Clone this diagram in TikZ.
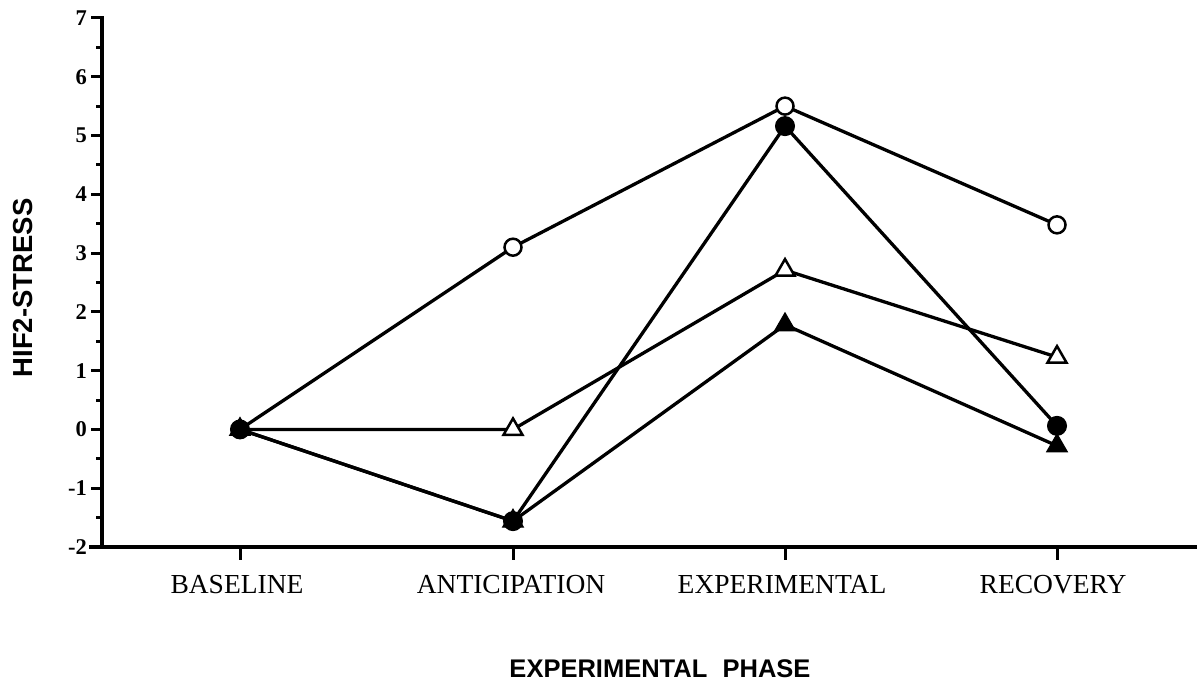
\documentclass[tikz,border=0pt]{standalone}
\usepackage{fontspec}
\setmainfont{Liberation Serif}
\newfontfamily\hsans{Liberation Sans}
\usetikzlibrary{shapes.geometric}
\begin{document}
\begin{tikzpicture}[x=1pt,y=-1pt,
  axisline/.style={line width=3.8pt,line cap=rect},
  tickline/.style={line width=3pt},
  dataline/.style={line width=3.3pt,line join=round},
  ocirc/.style={circle,draw,fill=white,line width=2.5pt,minimum size=17pt,inner sep=0pt},
  fcirc/.style={circle,draw,fill=black,line width=1pt,minimum size=19pt,inner sep=0pt},
  otri/.style={regular polygon,regular polygon sides=3,draw,fill=white,line width=2.5pt,minimum size=22pt,inner sep=0pt},
  ftri/.style={regular polygon,regular polygon sides=3,draw,fill=black,line width=1pt,minimum size=24pt,inner sep=0pt},
  ticklab/.style={anchor=east,inner sep=0pt,font=\bfseries\fontsize{22.5}{24}\selectfont},
  catlab/.style={anchor=base,inner sep=0pt,font=\fontsize{27.5}{30}\selectfont},
  axtitle/.style={anchor=base,inner sep=0pt,font=\hsans\bfseries\fontsize{25.5}{28}\selectfont}
]
\useasboundingbox[fill=white] (0,0) rectangle (1198,683);
\def\yv#1{429.4-58.78*#1}
% axes
\draw[axisline] (102,18) -- (102,547);
\draw[axisline] (91,547) -- (1195,547);
% y ticks
\foreach \v in {7,6,5,4,3,2,1,0,-1}{
  \draw[tickline] (102,{\yv{\v}}) -- (91,{\yv{\v}});
}
\foreach \v in {6.5,5.5,4.5,3.5,2.5,1.5,0.5,-0.5,-1.5}{
  \draw[tickline] (102,{\yv{\v}}) -- (96,{\yv{\v}});
}
\foreach \v in {7,6,5,4,3,2,1,0,-1,-2}{
  \node[ticklab] (yl\v) at (87,{\yv{\v}}) {\v};
}
% x ticks
\foreach \x in {240,513,785,1057}{
  \draw[tickline] (\x,547) -- (\x,560);
}
\node[catlab] (cb) at (237,593) {BASELINE};
\node[catlab] (ca) at (511,593) {ANTICIPATION};
\node[catlab] (ce) at (782,593) {EXPERIMENTAL};
\node[catlab] (cr) at (1053,593) {RECOVERY};
\node[axtitle] (xt) at (660,677) {EXPERIMENTAL\hspace{0.6em}PHASE};
\node[axtitle,rotate=90,font=\hsans\bfseries\fontsize{27.5}{30}\selectfont] (yt) at (32,288) {HIF2-STRESS};
% data coordinates
\coordinate (oc1) at (240,{\yv{0}});
\coordinate (oc2) at (513,{\yv{3.10}});
\coordinate (oc3) at (785,{\yv{5.50}});
\coordinate (oc4) at (1057,{\yv{3.48}});
\coordinate (fc1) at (240,{\yv{0}});
\coordinate (fc2) at (513,{\yv{-1.56}});
\coordinate (fc3) at (785,{\yv{5.16}});
\coordinate (fc4) at (1057,{\yv{0.06}});
\coordinate (ot1) at (240,{\yv{0}});
\coordinate (ot2) at (513,{\yv{0}});
\coordinate (ot3) at (785,{\yv{2.71}});
\coordinate (ot4) at (1057,{\yv{1.23}});
\coordinate (ft1) at (240,{\yv{0}});
\coordinate (ft2) at (513,{\yv{-1.56}});
\coordinate (ft3) at (785,{\yv{1.78}});
\coordinate (ft4) at (1057,{\yv{-0.28}});
% lines
\draw[dataline] (oc1) -- (oc2) -- (oc3) -- (oc4);
\draw[dataline] (fc1) -- (fc2) -- (fc3) -- (fc4);
\draw[dataline] (ot1) -- (ot2) -- (ot3) -- (ot4);
\draw[dataline] (ft1) -- (ft2) -- (ft3) -- (ft4);
% markers
\foreach \i in {1,2,3,4}{
  \node[ftri] (mft\i) at (ft\i) {};
}
\foreach \i in {1,2,3,4}{
  \node[fcirc] (mfc\i) at (fc\i) {};
}
\foreach \i in {2,3,4}{
  \node[otri] (mot\i) at (ot\i) {};
  \node[ocirc] (moc\i) at (oc\i) {};
}
\end{tikzpicture}
\end{document}
